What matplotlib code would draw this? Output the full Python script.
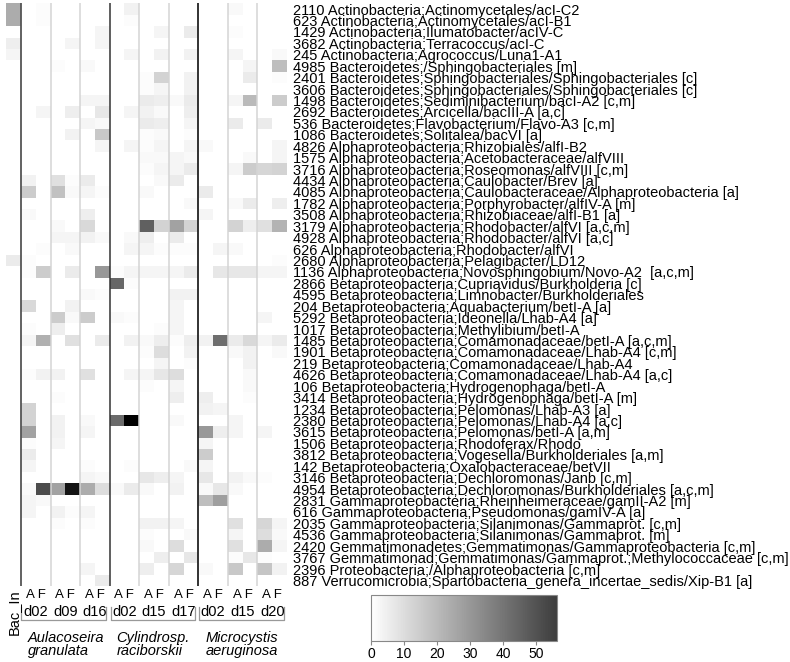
import numpy as np
import matplotlib
matplotlib.use('Agg')
import matplotlib.pyplot as plt
from matplotlib.colors import LinearSegmentedColormap, Normalize
from matplotlib.cm import ScalarMappable
from matplotlib.transforms import blended_transform_factory
from matplotlib.lines import Line2D

plt.rcParams['font.family'] = ['Liberation Sans', 'DejaVu Sans']

row_labels = [
    "2110 Actinobacteria;Actinomycetales/acI-C2",
    "623 Actinobacteria;Actinomycetales/acI-B1",
    "1429 Actinobacteria;Ilumatobacter/acIV-C",
    "3682 Actinobacteria;Terracoccus/acI-C",
    "245 Actinobacteria;Agrococcus/Luna1-A1",
    "4985 Bacteroidetes;/Sphingobacteriales [m]",
    "2401 Bacteroidetes;Sphingobacteriales/Sphingobacteriales [c]",
    "3606 Bacteroidetes;Sphingobacteriales/Sphingobacteriales [c]",
    "1498 Bacteroidetes;Sediminibacterium/bacI-A2 [c,m]",
    "2692 Bacteroidetes;Arcicella/bacIII-A [a,c]",
    "536 Bacteroidetes;Flavobacterium/Flavo-A3 [c,m]",
    "1086 Bacteroidetes;Solitalea/bacVI [a]",
    "4826 Alphaproteobacteria;Rhizobiales/alfI-B2",
    "1575 Alphaproteobacteria;Acetobacteraceae/alfVIII",
    "3716 Alphaproteobacteria;Roseomonas/alfVIII [c,m]",
    "4434 Alphaproteobacteria;Caulobacter/Brev [a]",
    "4085 Alphaproteobacteria;Caulobacteraceae/Alphaproteobacteria [a]",
    "1782 Alphaproteobacteria;Porphyrobacter/alfIV-A [m]",
    "3508 Alphaproteobacteria;Rhizobiaceae/alfI-B1 [a]",
    "3179 Alphaproteobacteria;Rhodobacter/alfVI [a,c,m]",
    "4928 Alphaproteobacteria;Rhodobacter/alfVI [a,c]",
    "626 Alphaproteobacteria;Rhodobacter/alfVI",
    "2680 Alphaproteobacteria;Pelagibacter/LD12",
    "1136 Alphaproteobacteria;Novosphingobium/Novo-A2  [a,c,m]",
    "2866 Betaproteobacteria;Cupriavidus/Burkholderia [c]",
    "4595 Betaproteobacteria;Limnobacter/Burkholderiales",
    "204 Betaproteobacteria;Aquabacterium/betI-A [a]",
    "5292 Betaproteobacteria;Ideonella/Lhab-A4 [a]",
    "1017 Betaproteobacteria;Methylibium/betI-A",
    "1485 Betaproteobacteria;Comamonadaceae/betI-A [a,c,m]",
    "1901 Betaproteobacteria;Comamonadaceae/Lhab-A4 [c,m]",
    "219 Betaproteobacteria;Comamonadaceae/Lhab-A4",
    "4626 Betaproteobacteria;Comamonadaceae/Lhab-A4 [a,c]",
    "106 Betaproteobacteria;Hydrogenophaga/betI-A",
    "3414 Betaproteobacteria;Hydrogenophaga/betI-A [m]",
    "1234 Betaproteobacteria;Pelomonas/Lhab-A3 [a]",
    "2380 Betaproteobacteria;Pelomonas/Lhab-A4 [a,c]",
    "3615 Betaproteobacteria;Pelomonas/betI-A [a,m]",
    "1506 Betaproteobacteria;Rhodoferax/Rhodo",
    "3812 Betaproteobacteria;Vogesella/Burkholderiales [a,m]",
    "142 Betaproteobacteria;Oxalobacteraceae/betVII",
    "3146 Betaproteobacteria;Dechloromonas/Janb [c,m]",
    "4954 Betaproteobacteria;Dechloromonas/Burkholderiales [a,c,m]",
    "2831 Gammaproteobacteria;Rheinheimeraceae/gamII-A2 [m]",
    "616 Gammaproteobacteria;Pseudomonas/gamIV-A [a]",
    "2035 Gammaproteobacteria;Silanimonas/Gammaprot. [c,m]",
    "4536 Gammaproteobacteria;Silanimonas/Gammaprot. [m]",
    "2420 Gemmatimonadetes;Gemmatimonas/Gammaproteobacteria [c,m]",
    "3767 Gemmatimonad;Gemmatimonas/Gammaprot.;Methylococcaceae [c,m]",
    "2396 Proteobacteria;/Alphaproteobacteria [c,m]",
    "887 Verrucomicrobia;Spartobacteria_genera_incertae_sedis/Xip-B1 [a]",
]

bac_in = [24, 24, 0, 5, 3, 0, 0, 0, 0, 0, 0, 0, 0, 0, 0, 0, 0, 0, 0, 0,
          0, 0, 6, 0, 0, 0, 0, 0, 0, 0, 0, 0, 0, 0, 0, 0, 0, 0, 0, 0,
          0, 0, 0, 0, 0, 0, 0, 0, 0, 0, 0]

# columns: A d02, F d02, A d09, F d09, A d16, F d16
aulacoseira = [
    [0, 1, 0, 0, 0, 0], [0, 1, 0, 0, 0, 0], [0, 0, 0, 0, 0, 3], [0, 0, 0, 3, 0, 3],
    [0, 0, 0, 0, 0, 0], [0, 0, 1, 0, 2, 0], [0, 0, 0, 0, 0, 0], [0, 0, 0, 0, 0, 0],
    [0, 0, 0, 0, 3, 3], [0, 3, 0, 5, 0, 7], [0, 0, 0, 0, 3, 2], [0, 0, 0, 4, 0, 16],
    [0, 0, 0, 0, 0, 3], [0, 0, 0, 0, 0, 0], [0, 0, 0, 0, 0, 0], [4, 0, 9, 1, 6, 0],
    [15, 0, 18, 2, 3, 1], [0, 0, 0, 0, 0, 0], [2, 0, 0, 0, 5, 0], [0, 0, 2, 0, 11, 0],
    [0, 0, 3, 3, 4, 2], [0, 1, 0, 2, 0, 0], [1, 0, 0, 0, 0, 0], [1, 15, 0, 6, 0, 30],
    [0, 0, 0, 0, 0, 0], [0, 0, 0, 0, 2, 1], [11, 0, 0, 4, 0, 0], [0, 0, 15, 2, 15, 0],
    [1, 0, 5, 0, 0, 0], [3, 23, 0, 9, 0, 6], [0, 0, 0, 0, 0, 0], [0, 0, 0, 0, 0, 0],
    [1, 4, 4, 0, 9, 0], [0, 0, 0, 0, 0, 0], [0, 0, 1, 0, 0, 0], [13, 0, 0, 0, 0, 0],
    [13, 0, 4, 0, 2, 0], [27, 0, 4, 0, 3, 0], [1, 0, 3, 0, 0, 0], [6, 0, 0, 0, 0, 0],
    [3, 0, 0, 0, 1, 0], [0, 0, 0, 0, 3, 2], [2, 52, 27, 68, 24, 10], [3, 2, 0, 0, 0, 0],
    [3, 0, 4, 1, 3, 0], [0, 0, 1, 0, 1, 0], [0, 0, 0, 0, 0, 0], [0, 0, 0, 0, 0, 0],
    [0, 0, 0, 0, 0, 0], [0, 0, 0, 0, 3, 0], [0, 0, 0, 0, 0, 6],
]

# columns: A d02, F d02, A d15, F d15, A d17, F d17
cylindrosp = [
    [0, 4, 0, 0, 0, 0], [0, 1, 0, 0, 0, 0], [0, 0, 0, 3, 0, 6], [0, 0, 0, 0, 0, 0],
    [0, 3, 0, 4, 0, 4], [0, 0, 0, 0, 0, 0], [0, 0, 1, 13, 0, 4], [0, 0, 1, 3, 0, 4],
    [0, 0, 6, 5, 2, 6], [0, 3, 4, 2, 0, 5], [0, 0, 6, 5, 0, 3], [0, 0, 1, 2, 0, 1],
    [0, 3, 1, 3, 0, 3], [0, 0, 2, 2, 3, 2], [0, 0, 1, 3, 3, 6], [0, 0, 0, 2, 6, 0],
    [0, 0, 2, 0, 0, 0], [0, 0, 0, 0, 0, 2], [0, 0, 0, 0, 0, 0], [0, 0, 46, 13, 27, 13],
    [0, 2, 5, 0, 6, 0], [0, 3, 3, 1, 1, 1], [0, 0, 0, 0, 0, 0], [1, 3, 3, 3, 3, 6],
    [44, 1, 0, 0, 0, 0], [0, 0, 0, 0, 4, 4], [0, 0, 0, 0, 3, 0], [2, 1, 0, 0, 3, 0],
    [0, 0, 0, 1, 3, 0], [0, 4, 2, 5, 1, 5], [0, 0, 1, 10, 0, 4], [0, 0, 0, 3, 0, 1],
    [0, 3, 3, 7, 10, 0], [0, 0, 1, 0, 3, 0], [0, 0, 0, 0, 5, 0], [0, 0, 0, 0, 0, 0],
    [43, 76, 0, 0, 2, 0], [0, 0, 0, 0, 0, 0], [0, 0, 0, 0, 0, 0], [0, 0, 0, 0, 0, 0],
    [0, 1, 0, 0, 0, 2], [0, 0, 7, 5, 3, 0], [2, 6, 2, 0, 4, 0], [0, 0, 0, 0, 0, 0],
    [0, 0, 0, 0, 0, 0], [0, 0, 4, 4, 3, 0], [0, 0, 1, 0, 0, 2], [0, 0, 2, 0, 10, 0],
    [0, 0, 0, 5, 0, 7], [0, 0, 5, 0, 12, 0], [0, 0, 0, 0, 0, 0],
]

# columns: A d02, F d02, A d15, F d15, A d20, F d20
microcystis = [
    [0, 0, 2, 0, 0, 0], [0, 0, 0, 0, 0, 0], [0, 0, 1, 0, 0, 0], [0, 0, 0, 0, 0, 0],
    [0, 0, 3, 0, 0, 2], [0, 0, 0, 3, 0, 19], [0, 0, 0, 6, 0, 1], [0, 0, 0, 0, 0, 0],
    [0, 0, 3, 20, 0, 15], [0, 0, 0, 0, 0, 0], [0, 0, 6, 0, 6, 0], [0, 0, 0, 0, 0, 0],
    [2, 0, 0, 0, 0, 3], [0, 0, 0, 2, 0, 3], [0, 0, 3, 15, 12, 13], [0, 0, 0, 0, 0, 0],
    [6, 0, 0, 0, 0, 0], [0, 0, 2, 6, 0, 5], [3, 0, 0, 0, 0, 0], [0, 0, 13, 5, 9, 22],
    [0, 0, 0, 0, 0, 0], [0, 3, 2, 0, 0, 0], [0, 0, 0, 0, 0, 1], [0, 7, 7, 7, 3, 3],
    [0, 0, 0, 0, 0, 0], [0, 0, 0, 0, 0, 0], [0, 0, 0, 0, 0, 0], [0, 0, 0, 0, 3, 0],
    [0, 0, 0, 0, 0, 0], [4, 42, 6, 11, 3, 6], [0, 0, 2, 4, 0, 2], [0, 0, 0, 4, 0, 0],
    [0, 0, 0, 2, 0, 0], [0, 0, 0, 2, 0, 0], [5, 0, 0, 1, 0, 0], [4, 3, 0, 0, 0, 0],
    [0, 0, 3, 0, 0, 0], [30, 5, 3, 0, 3, 0], [3, 0, 0, 0, 0, 0], [15, 0, 0, 0, 0, 0],
    [3, 0, 0, 0, 0, 0], [7, 0, 4, 2, 1, 0], [2, 7, 2, 0, 0, 0], [19, 28, 0, 0, 0, 0],
    [0, 0, 0, 0, 0, 0], [0, 0, 9, 0, 12, 3], [0, 0, 3, 0, 10, 2], [0, 0, 9, 0, 24, 3],
    [0, 0, 1, 7, 1, 0], [2, 0, 16, 0, 17, 4], [0, 0, 0, 0, 0, 0],
]

species = [("Aulacoseira", "granulata"), ("Cylindrosp.", "raciborskii"),
           ("Microcystis", "aeruginosa")]
days = [["d02", "d09", "d16"], ["d02", "d15", "d17"], ["d02", "d15", "d20"]]
treatment_label = "A F"
colorbar_ticks = [0, 10, 20, 30, 40, 50]

data = np.column_stack([np.array(bac_in)[:, None], np.array(aulacoseira),
                        np.array(cylindrosp), np.array(microcystis)])
nrow, ncol = data.shape

W, H = 790, 662
fig = plt.figure(figsize=(W / 100, H / 100), dpi=100)
ax = fig.add_axes([6.2 / W, 1 - 586.2 / H, (287 - 6.2) / W, (586.2 - 3.3) / H])

cmap = LinearSegmentedColormap.from_list('wb', ['#ffffff', '#000000'])
norm = Normalize(vmin=0, vmax=74)
ax.pcolormesh(np.arange(ncol + 1), np.arange(nrow + 1), data, cmap=cmap, norm=norm)
ax.set_xlim(0, ncol)
ax.set_ylim(nrow, 0)
for s in ax.spines.values():
    s.set_visible(False)
ax.set_xticks([])
ax.set_yticks(np.arange(nrow) + 0.5)
ax.set_yticklabels(row_labels, fontsize=10.5)
ax.yaxis.tick_right()
ax.tick_params(axis='y', length=0, pad=4.3)

# separators
for x in [3, 5, 9, 11, 15, 17]:
    ax.axvline(x, color='#d4d4d4', lw=1.1, zorder=3)
ax.axvline(1, color='#555555', lw=1.3, zorder=4)
ax.axvline(7, color='#333333', lw=1.1, zorder=4)
ax.axvline(13, color='#222222', lw=1.3, zorder=4)

trans = blended_transform_factory(ax.transData, fig.transFigure)
fy = lambda py: 1 - py / H

ax.text(0.5, fy(589), "Bac_In", transform=trans, rotation=90, ha='center', va='top',
        fontsize=10.5)
for g in range(3):
    start = 1 + 6 * g
    for d in range(3):
        c = start + 2 * d + 1
        ax.text(c, fy(595), treatment_label, transform=trans, ha='center', va='center',
                fontsize=9.5)
        ax.text(c, fy(612), days[g][d], transform=trans, ha='center', va='center',
                fontsize=10.5)
    x0 = start + (0.0 if g == 0 else 0.07)
    x1 = start + 6 - 0.23
    ax.add_line(Line2D([x0, x0, x1, x1], [fy(607), fy(620), fy(620), fy(607)],
                       transform=trans, color='#999999', lw=0.9, clip_on=False))
    ax.text(start + 0.47, fy(631), species[g][0] + "\n" + species[g][1], transform=trans,
            ha='left', va='top', fontsize=10.5, style='italic', linespacing=0.95)

cax = fig.add_axes([371 / W, 1 - 641 / H, (557 - 371) / W, (641 - 595) / H])
sm = ScalarMappable(norm=norm, cmap=cmap)
cb = fig.colorbar(sm, cax=cax, orientation='horizontal',
                  boundaries=np.linspace(0, 56.4, 300), ticks=colorbar_ticks)
cb.outline.set_edgecolor('#888888')
cb.outline.set_linewidth(0.8)
cb.ax.tick_params(length=3, color='#888888', labelsize=10, pad=1)

fig.savefig('out.png', dpi=100)
